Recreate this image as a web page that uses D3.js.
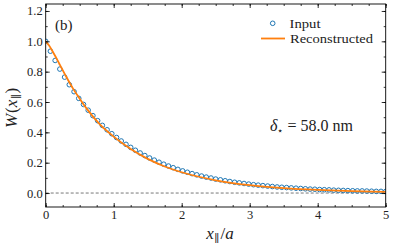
<!DOCTYPE html>
<html>
<head>
<meta charset="utf-8">
<script src="https://cdn.jsdelivr.net/npm/d3@7"></script>
<style>
  html, body { margin: 0; padding: 0; background: #fff; }
  svg { display: block; font-family: "Liberation Serif", "DejaVu Serif", serif; }
</style>
</head>
<body>
<svg id="chart" width="394" height="249"></svg>
<script>
// sample positions of the input points (x_par / a)
const inputX = [
  0.000, 0.069, 0.139, 0.208, 0.278, 0.347, 0.417, 0.486, 0.556, 0.625,
  0.694, 0.764, 0.833, 0.903, 0.972, 1.042, 1.111, 1.181, 1.250, 1.319,
  1.389, 1.458, 1.528, 1.597, 1.667, 1.736, 1.806, 1.875, 1.944, 2.014,
  2.083, 2.153, 2.222, 2.292, 2.361, 2.431, 2.500, 2.569, 2.639, 2.708,
  2.778, 2.847, 2.917, 2.986, 3.056, 3.125, 3.194, 3.264, 3.333, 3.403,
  3.472, 3.542, 3.611, 3.681, 3.750, 3.819, 3.889, 3.958, 4.028, 4.097,
  4.167, 4.236, 4.306, 4.375, 4.444, 4.514, 4.583, 4.653, 4.722, 4.792,
  4.861, 4.931, 5.000
]
const inputW = [
  1.000, 0.935, 0.874, 0.817, 0.764, 0.714, 0.668, 0.624, 0.584, 0.546,
  0.510, 0.477, 0.446, 0.417, 0.391, 0.366, 0.343, 0.321, 0.301, 0.282,
  0.264, 0.247, 0.231, 0.217, 0.203, 0.190, 0.178, 0.167, 0.156, 0.146,
  0.137, 0.128, 0.120, 0.112, 0.105, 0.099, 0.092, 0.087, 0.081, 0.076,
  0.071, 0.067, 0.063, 0.059, 0.055, 0.052, 0.049, 0.046, 0.043, 0.040,
  0.038, 0.036, 0.034, 0.032, 0.030, 0.028, 0.026, 0.025, 0.023, 0.022,
  0.021, 0.019, 0.018, 0.017, 0.016, 0.015, 0.014, 0.014, 0.013, 0.012,
  0.011, 0.011, 0.010
]

// reconstructed curve
const reconX = [0, 0.05, 0.1, 0.15, 0.2, 0.3, 0.4, 0.5, 0.6, 0.8, 1.0, 1.25, 1.5, 1.75, 2.0, 2.5, 3.0, 3.5, 4.0, 4.5, 5.0]
const reconW = [1.0, 0.972, 0.935, 0.895, 0.852, 0.768, 0.690, 0.622, 0.558, 0.451, 0.372, 0.290, 0.225, 0.175, 0.137, 0.084, 0.052, 0.033, 0.021, 0.013, 0.008]

const xTicks = [0, 1, 2, 3, 4, 5]
const xMinor = d3.range(0, 5.001, 0.25)
const yTicks = [0, 0.2, 0.4, 0.6, 0.8, 1.0, 1.2]
const yMinor = d3.range(-0.0, 1.21, 0.1)

const svg = d3.select('#chart')
const plotLeft = 45.7, plotRight = 385.7, plotTop = 4, plotBottom = 207

const x = d3.scaleLinear().domain([0, 5]).range([plotLeft, plotRight])
const y = d3.scaleLinear().domain([-0.092, 1.246]).range([plotBottom, plotTop])

const clip = svg.append('defs').append('clipPath').attr('id', 'plotClip')
clip.append('rect').attr('x', plotLeft).attr('y', plotTop)
  .attr('width', plotRight - plotLeft).attr('height', plotBottom - plotTop)

// zero reference line
svg.append('line')
  .attr('x1', plotLeft).attr('x2', plotRight)
  .attr('y1', y(0)).attr('y2', y(0))
  .attr('stroke', '#555').attr('stroke-width', 0.8)
  .attr('stroke-dasharray', '3,2')

const plot = svg.append('g').attr('clip-path', 'url(#plotClip)')

// input points
plot.append('g')
  .selectAll('circle')
  .data(inputX.map((v, i) => [v, inputW[i]]))
  .enter().append('circle')
  .attr('cx', d => x(d[0]))
  .attr('cy', d => y(d[1]))
  .attr('r', 2.3)
  .attr('fill', 'none')
  .attr('stroke', '#1f77b4')
  .attr('stroke-width', 1)

// reconstructed line
const line = d3.line().x(d => x(d[0])).y(d => y(d[1])).curve(d3.curveMonotoneX)
plot.append('path')
  .datum(reconX.map((v, i) => [v, reconW[i]]))
  .attr('d', line)
  .attr('fill', 'none')
  .attr('stroke', '#ff7f0e')
  .attr('stroke-width', 1.8)

// axes, ticks pointing inward on all four sides
function styleAxis(g) {
  g.attr('font-family', '"Liberation Serif", serif')
  g.select('.domain').remove()
  g.selectAll('.tick line').attr('stroke', '#000').attr('stroke-width', 0.8)
  g.selectAll('.tick text')
    .attr('font-size', 12.5)
    .attr('fill', '#222')
}

svg.append('g').attr('transform', `translate(0,${plotBottom})`)
  .call(d3.axisBottom(x).tickValues(xMinor).tickSize(-2).tickFormat(''))
  .call(styleAxis)
svg.append('g').attr('transform', `translate(0,${plotBottom})`)
  .call(d3.axisBottom(x).tickValues(xTicks).tickSize(-4).tickPadding(3).tickFormat(d3.format('d')))
  .call(styleAxis)
svg.append('g').attr('transform', `translate(0,${plotTop})`)
  .call(d3.axisTop(x).tickValues(xMinor).tickSize(-2).tickFormat(''))
  .call(styleAxis)
svg.append('g').attr('transform', `translate(0,${plotTop})`)
  .call(d3.axisTop(x).tickValues(xTicks).tickSize(-4).tickFormat(''))
  .call(styleAxis)

svg.append('g').attr('transform', `translate(${plotLeft},0)`)
  .call(d3.axisLeft(y).tickValues(yMinor).tickSize(-2).tickFormat(''))
  .call(styleAxis)
svg.append('g').attr('transform', `translate(${plotLeft},0)`)
  .call(d3.axisLeft(y).tickValues(yTicks).tickSize(-4).tickPadding(3).tickFormat(d3.format('.1f')))
  .call(styleAxis)
svg.append('g').attr('transform', `translate(${plotRight},0)`)
  .call(d3.axisRight(y).tickValues(yMinor).tickSize(-2).tickFormat(''))
  .call(styleAxis)
svg.append('g').attr('transform', `translate(${plotRight},0)`)
  .call(d3.axisRight(y).tickValues(yTicks).tickSize(-4).tickFormat(''))
  .call(styleAxis)

// frame
svg.append('rect')
  .attr('x', plotLeft).attr('y', plotTop)
  .attr('width', plotRight - plotLeft).attr('height', plotBottom - plotTop)
  .attr('fill', 'none').attr('stroke', '#000').attr('stroke-width', 0.9)

// axis labels
const xl = svg.append('text')
  .attr('x', 220).attr('y', 239)
  .attr('text-anchor', 'middle')
  .attr('font-size', 17)
  .attr('fill', '#222')
xl.append('tspan').attr('font-style', 'italic').text('x')
xl.append('tspan').attr('font-size', 11).attr('dy', 3).attr('dx', 0.5).text('∥')
xl.append('tspan').attr('dy', -3).attr('dx', 1).text('/')
xl.append('tspan').attr('font-style', 'italic').text('a')

const yl = svg.append('text')
  .attr('transform', 'translate(17,108) rotate(-90)')
  .attr('text-anchor', 'middle')
  .attr('font-size', 17)
  .attr('fill', '#222')
yl.append('tspan').attr('font-style', 'italic').text('W')
yl.append('tspan').attr('dx', 1).text('(')
yl.append('tspan').attr('font-style', 'italic').text('x')
yl.append('tspan').attr('font-size', 11).attr('dy', 3).attr('dx', 0.5).text('∥')
yl.append('tspan').attr('dy', -3).attr('dx', 0.5).text(')')

// panel tag
svg.append('text')
  .attr('x', 55).attr('y', 30)
  .attr('font-size', 15)
  .attr('fill', '#222')
  .text('(b)')

// legend
svg.append('circle')
  .attr('cx', 272.7).attr('cy', 23.3).attr('r', 2.3)
  .attr('fill', 'none').attr('stroke', '#1f77b4').attr('stroke-width', 1)
svg.append('text')
  .attr('x', 289.5).attr('y', 27.5)
  .attr('font-size', 13).attr('fill', '#222')
  .attr('textLength', 31).attr('lengthAdjust', 'spacingAndGlyphs')
  .text('Input')
svg.append('line')
  .attr('x1', 261).attr('x2', 285).attr('y1', 38.5).attr('y2', 38.5)
  .attr('stroke', '#ff7f0e').attr('stroke-width', 1.8)
svg.append('text')
  .attr('x', 290).attr('y', 43)
  .attr('font-size', 13).attr('fill', '#222')
  .attr('textLength', 83).attr('lengthAdjust', 'spacingAndGlyphs')
  .text('Reconstructed')

// annotation
const ann = svg.append('text')
  .attr('x', 270).attr('y', 131)
  .attr('font-size', 16).attr('fill', '#222')
ann.append('tspan').attr('font-style', 'italic').text('δ')
ann.append('tspan').attr('font-size', 10).attr('dy', 3).text('⋆')
ann.append('tspan').attr('dy', -3).text(' = 58.0 nm')
</script>
</body>
</html>
